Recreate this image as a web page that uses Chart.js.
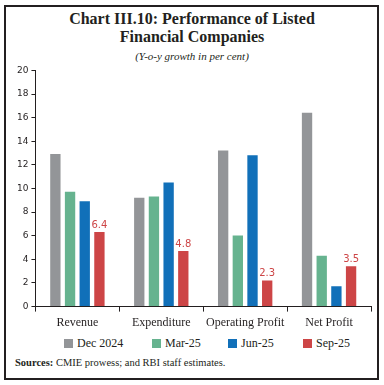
<!DOCTYPE html>
<html>
<head>
<meta charset="utf-8">
<script src="https://cdn.jsdelivr.net/npm/chart.js@4"></script>
<style>
  html, body { margin: 0; padding: 0; background: #fff; }
  body { width: 384px; height: 385px; position: relative; overflow: hidden; }
  .frame { position: absolute; left: 4px; top: 5px; width: 371px; height: 371px; border: 2px solid #231f20; }
  .title { position: absolute; left: 0; top: 10px; width: 384px; text-align: center; font-family: "Liberation Serif", serif; font-weight: bold; font-size: 16px; line-height: 18px; color: #231f20; }
  .sub { position: absolute; left: 0; top: 50px; width: 384px; text-align: center; font-family: "Liberation Serif", serif; font-style: italic; font-size: 11px; color: #231f20; }
  .src { position: absolute; left: 15px; top: 357px; font-family: "Liberation Serif", serif; font-size: 10.5px; color: #231f20; }
  .wrap { position: absolute; left: 0; top: 62px; width: 384px; height: 272px; }
  .legend span { position: absolute; top: 336px; display: flex; align-items: center; font-family: "Liberation Serif", serif; font-size: 12px; color: #231f20; white-space: nowrap; }
  .legend i { display: inline-block; width: 9px; height: 9px; margin-right: 4px; }
</style>
</head>
<body>
<div class="frame"></div>
<div class="title">Chart III.10: Performance of Listed<br>Financial Companies</div>
<div class="sub">(Y-o-y growth in per cent)</div>
<div class="wrap"><canvas id="chart"></canvas></div>
<div class="legend" id="legend"></div>
<div class="src"><b>Sources:</b> CMIE prowess; and RBI staff estimates.</div>
<script>
(function(){
    "use strict";

    const categories = ['Revenue', 'Expenditure', 'Operating Profit', 'Net Profit'];
    const seriesNames = ['Dec 2024', 'Mar-25', 'Jun-25', 'Sep-25'];
    const dec2024 = [13.0, 9.3, 13.3, 16.5];
    const mar25 = [9.8, 9.4, 6.1, 4.4];
    const jun25 = [9.0, 10.6, 12.9, 1.8];
    const sep25 = [6.4, 4.8, 2.3, 3.5];
    const yTicks = [0, 2, 4, 6, 8, 10, 12, 14, 16, 18, 20];

    const colors = ['#939598', '#66b38f', '#1170b9', '#cd4546'];
    const ink = '#231f20';

    // html legend, same look as the printed one (items sit at fixed spots)
    const legendLeft = [64, 152, 228, 303];
    const legendEl = document.getElementById('legend');
    seriesNames.forEach((name, i) => {
        const item = document.createElement('span');
        item.style.left = legendLeft[i] + 'px';
        item.innerHTML = `<i style="background:${colors[i]}"></i>${name}`;
        legendEl.appendChild(item);
    });

    // labels only on the last series, like the original
    const sepLabels = {
        id: 'sepLabels',
        afterDatasetsDraw(chart) {
            const ctx = chart.ctx;
            const meta = chart.getDatasetMeta(3);
            ctx.save();
            ctx.fillStyle = colors[3];
            ctx.font = '10px "DejaVu Sans", sans-serif';
            ctx.textAlign = 'center';
            ctx.textBaseline = 'bottom';
            meta.data.forEach((bar, i) => {
                ctx.fillText(sep25[i].toFixed(1), bar.x, bar.y - 1);
            });
            ctx.restore();
        }
    };

    const series = [dec2024, mar25, jun25, sep25];

    new Chart(document.getElementById('chart'), {
        type: 'bar',
        data: {
            labels: categories,
            datasets: series.map((d, i) => ({
                label: seriesNames[i],
                data: d,
                backgroundColor: colors[i],
                borderColor: 'rgba(255,255,255,0.6)',
                borderWidth: 1,
                categoryPercentage: 0.7,
                barPercentage: 0.84
            }))
        },
        options: {
            responsive: true,
            maintainAspectRatio: false,
            animation: false,
            layout: { padding: { left: 14, right: 13, top: 6, bottom: 0 } },
            plugins: {
                tooltip: { enabled: false },
                legend: { display: false }
            },
            scales: {
                x: {
                    offset: true,
                    border: { color: ink, width: 1 },
                    grid: { offset: true, drawOnChartArea: false, tickLength: 5, color: ink },
                    ticks: { color: ink, padding: 4, maxRotation: 0, minRotation: 0, autoSkip: false,
                             font: { family: '"Liberation Serif", serif', size: 12 } }
                },
                y: {
                    min: 0, max: 20,
                    afterBuildTicks: axis => { axis.ticks = yTicks.map(v => ({ value: v })); },
                    border: { color: ink, width: 1 },
                    grid: { drawOnChartArea: false, tickLength: 4, color: ink },
                    ticks: { color: ink, padding: 3, font: { family: '"DejaVu Sans", sans-serif', size: 9 } }
                }
            }
        },
        plugins: [sepLabels]
    });
})();
</script>
</body>
</html>
